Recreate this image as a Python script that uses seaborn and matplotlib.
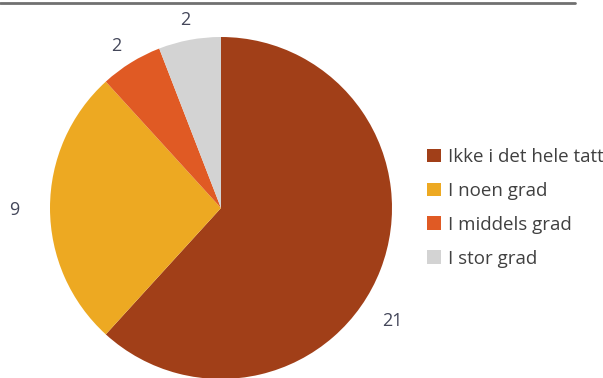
import matplotlib
matplotlib.use("Agg")
import matplotlib.pyplot as plt
import seaborn as sns
from matplotlib.patches import Patch

# data
kategorier = ["Ikke i det hele tatt", "I noen grad", "I middels grad", "I stor grad"]
antall = [21, 9, 2, 2]
farger = ["#A13F18", "#EDA922", "#E05A24", "#D3D3D3"]
# label positions (pie units)
etikett_pos = [(1.00, -0.66), (-1.21, -0.01), (-0.61, 0.95), (-0.21, 1.10)]

sns.set_style("white")
plt.rcParams["font.family"] = ["Open Sans", "DejaVu Sans"]

fig = plt.figure(figsize=(6.03, 3.78), dpi=100)
ax = fig.add_axes([50 / 603, -1 / 378, 342 / 603, 342 / 378])

wedges, _ = ax.pie(antall, colors=farger, startangle=90, counterclock=False,
                   radius=1, wedgeprops=dict(linewidth=0))
ax.set_xlim(-1, 1)
ax.set_ylim(-1, 1)
ax.set_aspect("equal")
ax.axis("off")
for n, (x, y) in zip(antall, etikett_pos):
    ax.text(x, y, str(n), ha="center", va="center", fontsize=13,
            color="#44475a", clip_on=False)

# top rule
fig.add_artist(plt.Line2D([0, 575 / 603], [1 - 3 / 378, 1 - 3 / 378],
                          color="#707070", linewidth=2))

handles = [Patch(facecolor=c, edgecolor="none") for c in farger]
fig.legend(handles, kategorier, loc="upper left", bbox_to_anchor=(427 / 603, 1 - 148 / 378),
           frameon=False, fontsize=13.5, handlelength=0.75, handleheight=0.75,
           handletextpad=0.35, labelspacing=0.85, borderpad=0, borderaxespad=0,
           labelcolor="#404040")

fig.savefig("out.png", dpi=100)
